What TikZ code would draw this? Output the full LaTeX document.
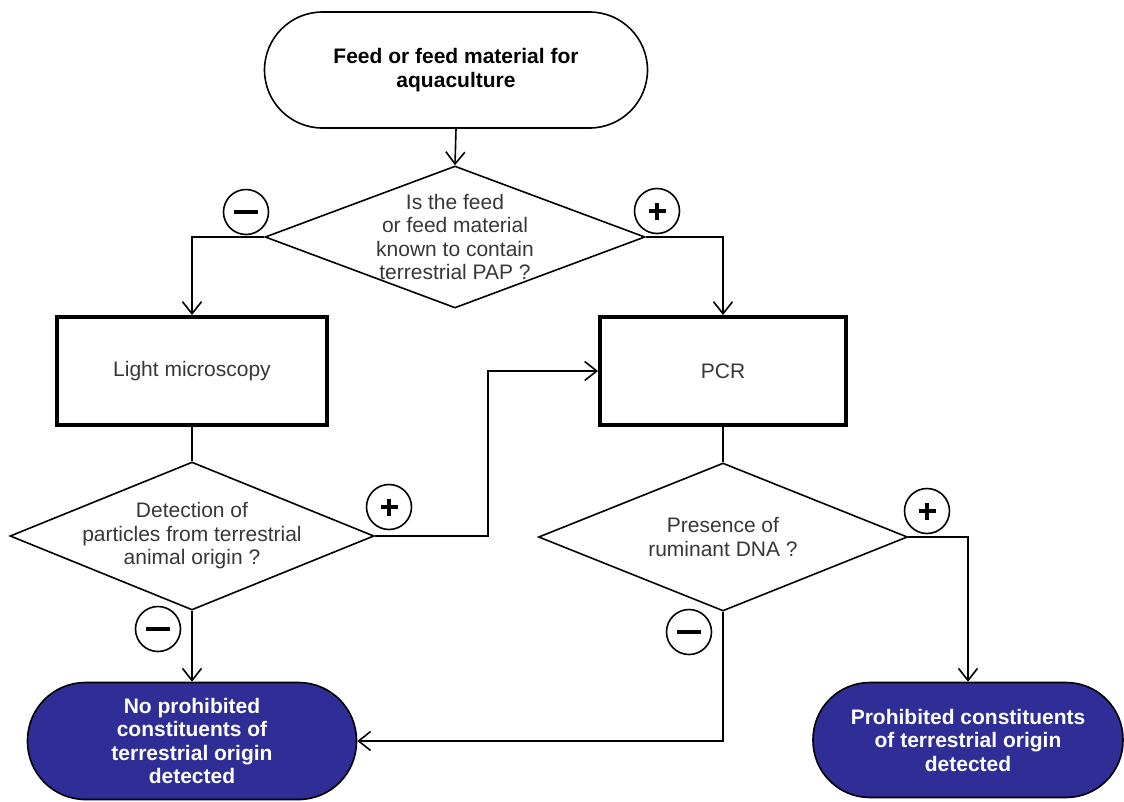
\documentclass[tikz,border=0pt]{standalone}
\usepackage{fontspec}
\setmainfont{Liberation Sans}
\usetikzlibrary{shapes.geometric,arrows.meta}
\definecolor{termblue}{RGB}{46,46,150}
\definecolor{txtgray}{RGB}{55,55,55}
\begin{document}
\begin{tikzpicture}[x=1pt,y=-1pt,
  line/.style={line width=1.6pt, draw=black},
  arr/.style={line width=1.6pt, -{Straight Barb[length=12pt,width=19pt,line width=1.6pt]}},
  regtext/.style={font=\fontsize{21}{23.5}\selectfont, text=txtgray, align=center},
  boldtext/.style={font=\fontsize{21}{23.5}\selectfont\bfseries, align=center},
  termwhite/.style={draw=black, line width=1.6pt, fill=white, boldtext, text=black},
  termfill/.style={draw=black, line width=1.6pt, fill=termblue, boldtext, text=white},
  procbox/.style={draw=black, line width=4pt, fill=white, regtext, minimum width=#1, minimum height=108pt, inner sep=0pt},
  decision/.style={diamond, draw=black, line width=1.6pt, inner sep=0pt, aspect=2.5},
  signcirc/.style={circle, draw=black, line width=1.6pt, minimum size=45pt, inner sep=0pt},
  sign/.style={line width=4pt}
]
\useasboundingbox (0,0) rectangle (1124,801);

% terminals
\node[termwhite, minimum width=383pt, minimum height=116pt, rounded corners=58pt] (top) at (456,70)
  {Feed or feed material for\\aquaculture};
\node[termfill, minimum width=329pt, minimum height=117pt, rounded corners=58pt] (bl) at (192,741)
  {No prohibited\\constituents of\\terrestrial origin\\detected};
\node[termfill, minimum width=310pt, minimum height=115pt, rounded corners=57pt] (br) at (968,740)
  {Prohibited constituents\\of terrestrial origin\\detected};

% process boxes
\node[procbox=270pt] (lm) at (192,371) {Light microscopy};
\node[procbox=246pt] (pcr) at (723,371) {PCR};

% decisions
\node[decision, minimum width=380pt, minimum height=142pt,
  label={[regtext]center:Is the feed\\or feed material\\known to contain\\terrestrial PAP ?}] (d1) at (455,237) {};
\node[decision, minimum width=364pt, minimum height=148pt,
  label={[regtext]center:Detection of\\particles from terrestrial\\animal origin ?}] (d2) at (192,536) {};
\node[decision, minimum width=369pt, minimum height=148pt,
  label={[regtext]center:Presence of\\ruminant DNA ?}] (d3) at (723,537) {};

% connectors
\draw[arr] (top.south) -- (d1.north);
\draw[arr] (d1.west) -| (lm.north);
\draw[arr] (d1.east) -| (pcr.north);
\draw[line] (lm.south) -- (d2.north);
\draw[line] (pcr.south) -- (d3.north);
\coordinate (j2) at (488,536);
\draw[arr] (d2.east) -- (j2) |- (pcr.west);
\draw[arr] (d2.south) -- (bl.north);
\draw[arr] (d3.east) -| (br.north);
\draw[arr] (d3.south) |- (bl.east);

% sign circles
\node[signcirc] (m1) at (246,212) {};
\node[signcirc] (p1) at (657,211) {};
\node[signcirc] (p2) at (389,507) {};
\node[signcirc] (m2) at (158,629) {};
\node[signcirc] (p3) at (927,511) {};
\node[signcirc] (m3) at (689,632) {};
\foreach \c in {m1,m2,m3} {
  \draw[sign] ([xshift=-12pt]\c.center) -- ([xshift=12pt]\c.center);
}
\foreach \c in {p1,p2,p3} {
  \draw[sign] ([xshift=-8.5pt]\c.center) -- ([xshift=8.5pt]\c.center);
  \draw[sign] ([yshift=-8.5pt]\c.center) -- ([yshift=8.5pt]\c.center);
}
\end{tikzpicture}
\end{document}
